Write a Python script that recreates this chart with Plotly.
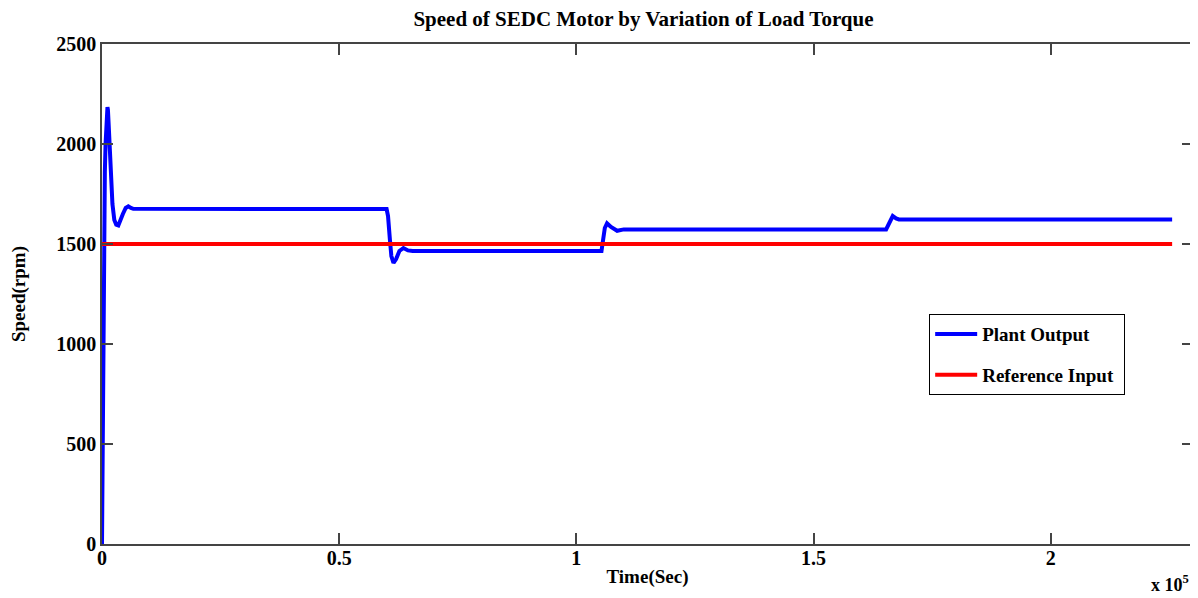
import plotly.graph_objects as go

# Plant output (time in s, speed in rpm)
time_out = [0, 150, 300, 450, 600, 750, 900, 1050, 1150, 1250, 1400, 1600, 1900, 2200, 2600, 3000, 3440,
            3900, 4400, 5000, 5550, 6100, 6600,
            60000, 60300, 60700, 61000, 61450, 62000, 62700, 63550, 64500, 65500,
            105300, 105600, 106000, 106470, 107300, 108600, 110000,
            165300, 165900, 166700, 167400, 168000,
            225600]
speed_out = [0, 600, 1150, 1550, 1860, 2000, 2080, 2160, 2184, 2170, 2100, 1980, 1820, 1700, 1620, 1597, 1593,
             1615, 1650, 1680, 1688, 1680, 1676,
             1675, 1640, 1520, 1440, 1405, 1425, 1465, 1480, 1468, 1465,
             1465, 1520, 1580, 1603, 1585, 1566, 1573,
             1573, 1600, 1640, 1628, 1623,
             1623]

# Reference input
time_ref = [0, 225600]
speed_ref = [1500, 1500]

x_tickvals = [0, 50000, 100000, 150000, 200000]
x_ticktext = ["0", "0.5", "1", "1.5", "2"]
y_tickvals = [0, 500, 1000, 1500, 2000, 2500]

FONT = "Liberation Serif"

fig = go.Figure()
fig.add_trace(go.Scatter(x=time_out, y=speed_out, mode="lines", name="<b>Plant Output</b>",
                         line=dict(color="#0000FF", width=4), legendgroup="a"))
fig.add_trace(go.Scatter(x=time_ref, y=speed_ref, mode="lines", name="<b>Reference Input</b>&nbsp;",
                         line=dict(color="#FF0000", width=4), legendgroup="b"))

axis_common = dict(showgrid=False, zeroline=False, showline=True, linecolor="#444444", linewidth=1.5,
                   mirror="ticks", ticks="inside", ticklen=11, tickcolor="#444444", tickwidth=1.5,
                   automargin=False,
                   tickfont=dict(family=FONT, size=20, color="black"))

fig.update_xaxes(range=[0, 230000], tickvals=x_tickvals, ticktext=[f"<b>{t}</b>" for t in x_ticktext],
                 ticklabelstandoff=-5,
                 title=dict(text="<b>Time(Sec)</b>", font=dict(family=FONT, size=19, color="black"), standoff=2),
                 **axis_common)
fig.update_yaxes(range=[0, 2500], tickvals=y_tickvals, ticktext=[f"<b>{v}</b>" for v in y_tickvals],
                 title=dict(text="<b>Speed(rpm)</b>", font=dict(family=FONT, size=19, color="black"), standoff=28),
                 **axis_common)

# page body has an 8px margin; figure sized so that the plot area lands where the reference has it
fig.update_layout(
    width=1190, height=590,
    margin=dict(l=94, r=5, t=36, b=54),
    plot_bgcolor="white", paper_bgcolor="white",
    title=dict(text="<b>Speed of SEDC Motor by Variation of Load Torque</b>", x=0.534, xanchor="center",
               y=1.0, yanchor="top", pad=dict(t=3),
               font=dict(family=FONT, size=21, color="black")),
    legend=dict(x=0.758, y=0.46, xanchor="left", yanchor="top", bgcolor="white",
                bordercolor="black", borderwidth=1.2, traceorder="grouped", tracegroupgap=13,
                itemwidth=42,
                font=dict(family=FONT, size=19, color="black")),
    showlegend=True,
)

fig.add_annotation(text="<b>x 10<sup>5</sup></b>", x=1.0, y=0, xref="paper", yref="paper",
                   xanchor="right", yanchor="bottom", yshift=-53, xshift=-2, showarrow=False,
                   font=dict(family=FONT, size=18, color="black"))

fig.write_html("out.html")
